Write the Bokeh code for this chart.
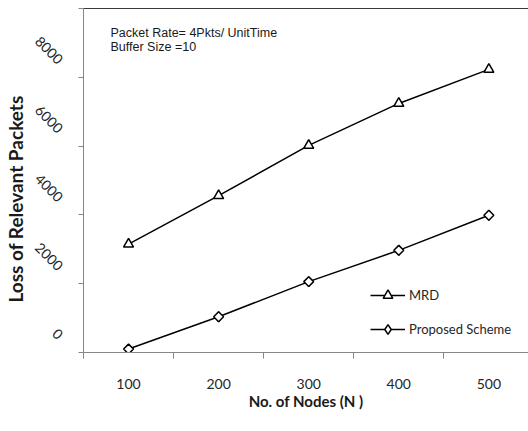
import math
from bokeh.plotting import figure
from bokeh.models import (Range1d, LinearAxis, FixedTicker, Label,
                          Legend, LegendItem)
from bokeh.embed import file_html
from bokeh.resources import INLINE

# ---- data ----
nodes = [100, 200, 300, 400, 500]
mrd = [3150, 4560, 6020, 7240, 8230]
proposed = [100, 1040, 2060, 2970, 3990]
y_ticks = [0, 2000, 4000, 6000, 8000]
y_tick_marks = [0, 2000, 4000, 6000, 8000, 10000]
x_minor = [50, 150, 250, 350, 450]
series_names = ["MRD", "Proposed Scheme"]
note_lines = ["Packet Rate= 4Pkts/ UnitTime", "Buffer Size =10"]

FONT = "Lato"
AX_GREY = "#868686"
TXT = "#262626"
NB = "\u00a0"

p = figure(width=528, height=431, output_backend="svg", toolbar_location=None,
           x_range=Range1d(50, 544), y_range=Range1d(0, 10000),
           min_border_left=83, min_border_right=0, min_border_top=8,
           min_border_bottom=79)
p.grid.visible = False
p.outline_line_color = None
p.background_fill_color = "white"
p.border_fill_color = "white"

# x axis
xa = p.xaxis[0]
xa.ticker = FixedTicker(ticks=nodes, minor_ticks=x_minor)
xa.axis_line_color = AX_GREY
xa.major_tick_line_color = None
xa.minor_tick_line_color = AX_GREY
xa.minor_tick_in = 0
xa.minor_tick_out = 6
xa.major_label_standoff = 20
xa.major_label_text_font = FONT
xa.major_label_text_font_size = "14px"
xa.major_label_text_color = TXT
xa.axis_label = "No. of Nodes (N )"
xa.axis_label_text_font = FONT
xa.axis_label_text_font_size = "15px"
xa.axis_label_text_font_style = "bold"
xa.axis_label_text_color = "#1a1a1a"
xa.axis_label_standoff = 0

# main y axis: tick marks only (as minor ticks, so no hidden labels)
ya = p.yaxis[0]
ya.ticker = FixedTicker(ticks=[], minor_ticks=y_tick_marks)
ya.axis_line_color = AX_GREY
ya.major_tick_line_color = None
ya.minor_tick_line_color = AX_GREY
ya.minor_tick_in = 0
ya.minor_tick_out = 5
ya.major_label_standoff = 0

# label axis, shifted upward like the reference's rotated labels
shift = 450
p.extra_y_ranges = {"lab": Range1d(-shift, 10000 - shift)}
la = LinearAxis(y_range_name="lab", ticker=FixedTicker(ticks=y_ticks))
la.axis_line_color = None
la.major_tick_line_color = None
la.minor_tick_line_color = None
la.major_label_orientation = -math.pi / 4
la.major_label_standoff = 12
la.major_label_text_font = FONT
la.major_label_text_font_size = "14px"
la.major_label_text_color = TXT
la.axis_label = "Loss of Relevant Packets" + NB * 8
la.axis_label_text_font = FONT
la.axis_label_text_font_size = "19px"
la.axis_label_text_font_style = "bold"
la.axis_label_text_color = "#1a1a1a"
la.axis_label_standoff = 0
p.add_layout(la, "left")

# top border line of the plot area
top = LinearAxis(ticker=FixedTicker(ticks=[]))
top.axis_line_color = "#3a3a3a"
top.axis_line_width = 1.2
top.major_tick_line_color = None
top.minor_tick_line_color = None
top.major_label_standoff = 0
p.add_layout(top, "above")

# series
r1l = p.line(nodes, mrd, line_color="black", line_width=1.5)
r1m = p.scatter(nodes, mrd, marker="triangle", size=10, fill_color="white",
                line_color="black", line_width=1.5)
r2l = p.line(nodes, proposed, line_color="black", line_width=1.5)
# diamond symbol used for the legend (hidden under the plot markers)
r2k = p.scatter(nodes, proposed, marker="diamond", size=9.5, fill_color="white",
                line_color="black", line_width=1.5)
r2m = p.scatter(nodes, proposed, marker="square", angle=math.pi / 4, size=7,
                fill_color="white", line_color="black", line_width=1.5)

legend = Legend(items=[LegendItem(label=series_names[0], renderers=[r1l, r1m]),
                       LegendItem(label=series_names[1], renderers=[r2l, r2k])],
                location=(287, 11), orientation="vertical")
legend.border_line_color = None
legend.background_fill_alpha = 0
legend.padding = 0
legend.margin = 0
legend.spacing = 10
legend.glyph_width = 35
legend.glyph_height = 24
legend.label_height = 24
legend.label_standoff = 4
legend.label_text_font = FONT
legend.label_text_font_size = "13px"
legend.label_text_color = TXT
p.add_layout(legend)

# note text (top-left of the plot area)
for i, t in enumerate(note_lines):
    p.add_layout(Label(x=80, y=9300 - 407 * i, text=t,
                       text_font="Liberation Sans", text_font_size="12.5px",
                       text_color="#1a1a1a", text_baseline="middle",
                       text_align="left"))

open("out.html", "w").write(file_html(p, INLINE))
